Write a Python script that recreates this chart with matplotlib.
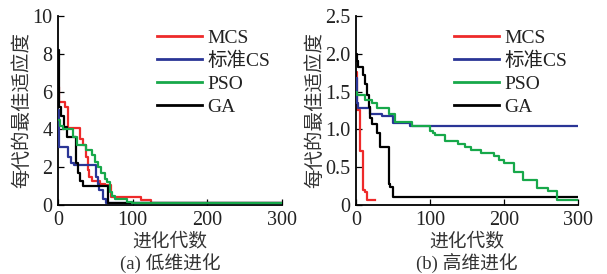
import matplotlib
matplotlib.use("Agg")
import matplotlib.pyplot as plt
from matplotlib.font_manager import FontProperties

plt.rcParams['font.family'] = ['Liberation Serif', 'Noto Sans CJK SC']
plt.rcParams['axes.unicode_minus'] = False

# ---------------- data (a) low dimension ----------------
a_mcs_gen = [0, 2, 5, 9, 14, 29, 34, 37, 40, 42, 45, 56, 63, 71, 111, 124, 300]
a_mcs_val = [6.25, 5.45, 5.45, 5.2, 4.05, 3.5, 3.15, 2.55, 1.85, 1.5, 1.25, 1.1, 1.05, 0.44, 0.26, 0.1, 0.1]

a_cs_gen = [0, 1, 13, 17, 22, 51, 53, 55, 60, 64, 300]
a_cs_val = [5.0, 3.08, 2.55, 2.2, 2.12, 1.5, 1.1, 0.8, 0.3, 0.1, 0.1]

a_pso_gen = [0, 3, 7, 20, 26, 37, 45, 49, 54, 58, 63, 66, 69, 72, 76, 92, 99, 300]
a_pso_val = [4.5, 4.2, 4.0, 3.6, 3.2, 2.9, 2.65, 2.3, 2.0, 1.7, 1.4, 1.2, 0.67, 0.45, 0.3, 0.18, 0.08, 0.08]

a_ga_gen = [0, 1.5, 3.5, 8, 12, 24, 27, 29, 33, 67, 300]
a_ga_val = [8.2, 5.2, 4.7, 4.15, 3.6, 2.2, 1.7, 1.25, 1.0, 0.12, 0.12]

# ---------------- data (b) high dimension ----------------
b_mcs_gen = [0, 2, 5.5, 10, 11.5, 15, 25]
b_mcs_val = [1.76, 1.26, 0.72, 0.2, 0.17, 0.07, 0.07]

b_cs_gen = [0, 1, 3, 19, 35, 50, 73, 300]
b_cs_val = [1.68, 1.35, 1.28, 1.2, 1.18, 1.08, 1.05, 1.05]

b_pso_gen = [0, 2, 12, 21, 28, 44, 53, 75, 100, 104, 107, 120, 138, 147, 156, 169,
             187, 193, 200, 214, 225, 245, 259, 272, 300]
b_pso_val = [1.5, 1.45, 1.39, 1.35, 1.28, 1.2, 1.1, 1.05, 0.98, 0.95, 0.93, 0.84, 0.81,
             0.77, 0.73, 0.69, 0.65, 0.6, 0.55, 0.44, 0.33, 0.23, 0.18, 0.07, 0.07]

b_ga_gen = [0, 1, 3, 9, 12, 15, 17, 19, 21, 29, 32, 44, 46, 50, 300]
b_ga_val = [2.0, 1.9, 1.83, 1.72, 1.6, 1.45, 1.3, 1.15, 1.07, 0.95, 0.77, 0.28, 0.24, 0.1, 0.1]

labels = ['MCS', '标准CS', 'PSO', 'GA']
colors = ['#ee2a2a', '#2a3596', '#17a84a', '#000000']

a_yticks = [0, 2, 4, 6, 8, 10]
a_yticklabels = ['0', '2', '4', '6', '8', '10']
b_yticks = [0, 0.5, 1.0, 1.5, 2.0, 2.5]
b_yticklabels = ['0', '0.5', '1.0', '1.5', '2.0', '2.5']
xticks = [0, 100, 200, 300]

W, H = 607, 274
fig = plt.figure(figsize=(W / 100, H / 100), dpi=100)

ax1 = fig.add_axes([58 / W, (H - 205) / H, 224 / W, 189 / H])
ax2 = fig.add_axes([356 / W, (H - 205) / H, 222 / W, 189 / H])

mixed = ['Liberation Serif', 'Noto Sans CJK SC']
cjk = ['Noto Sans CJK SC', 'Liberation Serif']


def draw(ax, series, yticks, yticklabels, ymax, caption):
    order = [0, 1, 3, 2]
    lines = {}
    for i in order:
        g, v = series[i]
        ln, = ax.plot(g, v, drawstyle='steps-post', color=colors[i], lw=1.6,
                      label=labels[i], zorder=2 + order.index(i))
        lines[i] = ln
    handles = [lines[i] for i in range(4)]
    ax.set_xlim(0, 300)
    ax.set_ylim(0, ymax)
    ax.set_xticks(xticks)
    ax.set_xticklabels([str(t) for t in xticks])
    ax.set_yticks(yticks)
    ax.set_yticklabels(yticklabels)
    for s in ['top', 'right']:
        ax.spines[s].set_visible(False)
    for s in ['left', 'bottom']:
        ax.spines[s].set_linewidth(1.3)
    ax.tick_params(direction='in', length=4, width=0.9, labelsize=14.5, pad=4,
                   labelcolor='#222222')
    ax.set_ylabel('每代的最佳适应度', family=cjk, fontsize=14, labelpad=0,
                  color='#333333')
    ax.set_xlabel('进化代数', family=cjk, fontsize=13.5, labelpad=1, color='#333333')
    ax.text(0.5, -0.305, caption, transform=ax.transAxes, ha='center', va='center',
            family=mixed, fontsize=13.5, color='#333333')
    leg = ax.legend(handles=handles, loc='upper left', bbox_to_anchor=(0.44, 0.93),
                    frameon=False, prop=FontProperties(family=mixed, size=14),
                    handlelength=2.35, handletextpad=0.25, labelspacing=0.26,
                    borderpad=0, borderaxespad=0)
    for t in leg.get_texts():
        t.set_color('#222222')
    for ln in leg.get_lines():
        ln.set_linewidth(2.0)


draw(ax1, [(a_mcs_gen, a_mcs_val), (a_cs_gen, a_cs_val), (a_pso_gen, a_pso_val),
           (a_ga_gen, a_ga_val)], a_yticks, a_yticklabels, 10, '(a) 低维进化')
draw(ax2, [(b_mcs_gen, b_mcs_val), (b_cs_gen, b_cs_val), (b_pso_gen, b_pso_val),
           (b_ga_gen, b_ga_val)], b_yticks, b_yticklabels, 2.5, '(b) 高维进化')

fig.savefig('out.png', dpi=100)
